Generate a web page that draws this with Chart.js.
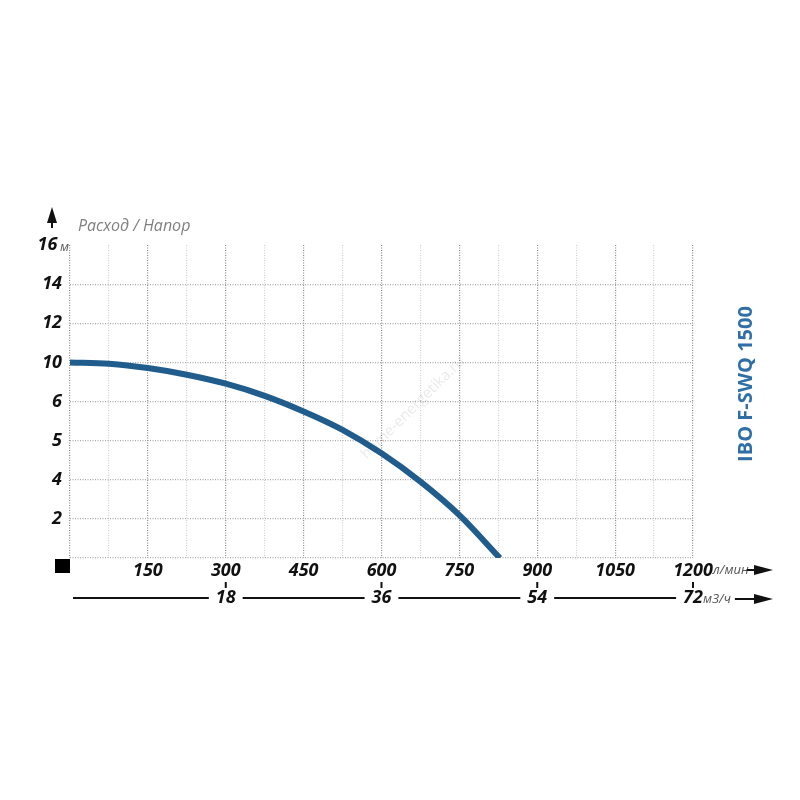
<!DOCTYPE html>
<html>
<head>
<meta charset="utf-8">
<script src="https://cdn.jsdelivr.net/npm/chart.js"></script>
<style>
  html, body { margin: 0; padding: 0; background: #fff; }
  #wrap { width: 800px; height: 800px; }
</style>
</head>
<body>
<div id="wrap"><canvas id="myChart" width="800" height="800"></canvas></div>
<script>
// данные кривой (расход л/мин, напор в делениях сетки)
const flowLpm = [0, 75, 150, 225, 300, 375, 450, 525, 600, 675, 750, 828];
const headValues = [10, 9.93, 9.71, 9.37, 8.91, 8.29, 7.49, 6.55, 5.35, 3.9, 2.19, 0];

// подписи осей
const yTickLabels = ['', '2', '4', '5', '6', '10', '12', '14', '16 '];
const xTickLabels = [150, 300, 450, 600, 750, 900, 1050, 1200];
const m3TickLabels = [18, 36, 54, 72];
const modelName = 'IBO F-SWQ 1500';

const BOLD = 'bold italic 18px "Open Sans"';
const tickFont = { family: 'Open Sans', size: 18, style: 'italic', weight: 'bold' };
const ctx = document.getElementById('myChart').getContext('2d');

const extras = {
  id: 'extras',
  afterDraw(chart) {
    const c = chart.ctx;
    const x = chart.scales.x, x2 = chart.scales.x2, y = chart.scales.y;
    c.save();

    // "м" после 16
    c.font = 'italic 13px "Open Sans"';
    c.fillStyle = '#555';
    c.textAlign = 'right';
    c.textBaseline = 'middle';
    c.fillText('м', 69, y.getPixelForValue(16) + 2);

    // стрелка вверх
    c.fillStyle = '#111';
    c.beginPath();
    c.moveTo(52, 207); c.lineTo(57, 223); c.lineTo(47, 223); c.closePath();
    c.fill();
    c.fillRect(51, 222, 2, 6);

    // Расход / Напор
    c.font = 'italic 16px "Open Sans"';
    c.fillStyle = '#808080';
    c.textAlign = 'left';
    c.fillText('Расход / Напор', 78, 226);

    // черный квадрат
    c.fillStyle = '#000';
    c.fillRect(55, 559, 15, 14);

    // л/мин + стрелка
    const yLab = 570;
    c.font = BOLD;
    const w1200 = c.measureText('1200').width;
    let px = x.getPixelForValue(1200) + w1200 / 2;
    c.font = 'italic 13px "Open Sans"';
    c.fillStyle = '#555';
    c.fillText('л/мин', px, yLab);
    px += c.measureText('л/мин').width;
    drawArrow(c, px - 2, 773, yLab);

    // нижняя ось м3/ч
    const yLine = 598;
    c.font = BOLD;
    let start = 73;
    c.strokeStyle = '#111';
    c.lineWidth = 2;
    m3TickLabels.forEach(v => {
      const cx = x2.getPixelForValue(v);
      const w = c.measureText(String(v)).width;
      c.beginPath();
      c.moveTo(start, yLine); c.lineTo(cx - w / 2 - 7, yLine);
      c.stroke();
      start = cx + w / 2 + 7;
      c.fillStyle = '#111';
      c.fillRect(cx - 1, 582, 2, 6);
    });
    const w72 = c.measureText('72').width;
    let px2 = x2.getPixelForValue(72) + w72 / 2;
    c.font = 'italic 13px "Open Sans"';
    c.fillStyle = '#555';
    c.fillText('м3/ч', px2, yLine + 1);
    px2 += c.measureText('м3/ч').width;
    drawArrow(c, px2 + 4, 773, yLine + 1);

    // название модели
    c.translate(746, 384);
    c.rotate(-Math.PI / 2);
    c.font = 'bold 20px "Open Sans"';
    c.fillStyle = '#2f6fa6';
    c.textAlign = 'center';
    c.fillText(modelName, 0, 0);
    c.restore();

    // водяной знак
    c.save();
    c.translate(413, 408);
    c.rotate(-0.78);
    c.font = '15px "Open Sans"';
    c.fillStyle = 'rgba(0,0,0,0.09)';
    c.textAlign = 'center';
    c.textBaseline = 'middle';
    c.fillText('home-energetika.ru', 0, 0);
    c.restore();
  }
};

function drawArrow(c, from, to, yy) {
  c.strokeStyle = '#111';
  c.fillStyle = '#111';
  c.lineWidth = 2;
  c.beginPath();
  c.moveTo(from, yy); c.lineTo(to - 14, yy);
  c.stroke();
  c.beginPath();
  c.moveTo(to, yy); c.lineTo(to - 19, yy - 5); c.lineTo(to - 19, yy + 5); c.closePath();
  c.fill();
}

new Chart(ctx, {
  type: 'line',
  data: {
    datasets: [{
      data: flowLpm.map((f, i) => ({ x: f, y: headValues[i] })),
      borderColor: '#215d8c',
      borderWidth: 6,
      pointRadius: 0,
      cubicInterpolationMode: 'monotone',
      fill: false
    }]
  },
  options: {
    responsive: false,
    animation: false,
    layout: { padding: { top: 245, left: 0, right: 107, bottom: 174 } },
    plugins: { legend: { display: false }, tooltip: { enabled: false } },
    scales: {
      x: {
        type: 'linear', position: 'bottom', min: 0, max: 1200,
        afterFit(s) { s.height = 28; },
        border: { display: false, dash: [1, 1.5] },
        grid: {
          drawTicks: false,
          lineWidth: 1.2,
          color: c => (c.tick && c.tick.value % 150 === 0) ? '#8a8a8a' : '#cfcfcf'
        },
        ticks: {
          stepSize: 75, autoSkip: false, maxRotation: 0, padding: 2,
          color: '#111', font: tickFont,
          callback: v => xTickLabels.includes(v) ? String(v) : ''
        }
      },
      x2: {
        type: 'linear', position: 'bottom', min: 0, max: 72,
        afterFit(s) { s.height = 40; },
        border: { display: false },
        grid: { display: false, drawTicks: false },
        ticks: {
          stepSize: 18, autoSkip: false, maxRotation: 0, padding: 1,
          color: '#111', font: tickFont,
          callback: v => m3TickLabels.includes(v) ? String(v) : ''
        }
      },
      y: {
        type: 'linear', position: 'left', min: 0, max: 16,
        afterFit(s) { s.width = 70; },
        border: { display: false, dash: [1, 1.5] },
        grid: {
          drawTicks: false,
          lineWidth: 1.2,
          color: c => (c.tick && c.tick.value === 16) ? 'rgba(0,0,0,0)' : '#a8a8a8'
        },
        ticks: {
          stepSize: 2, padding: 8,
          color: '#111', font: tickFont,
          callback: v => yTickLabels[v / 2]
        }
      }
    }
  },
  plugins: [extras]
});
</script>
</body>
</html>
